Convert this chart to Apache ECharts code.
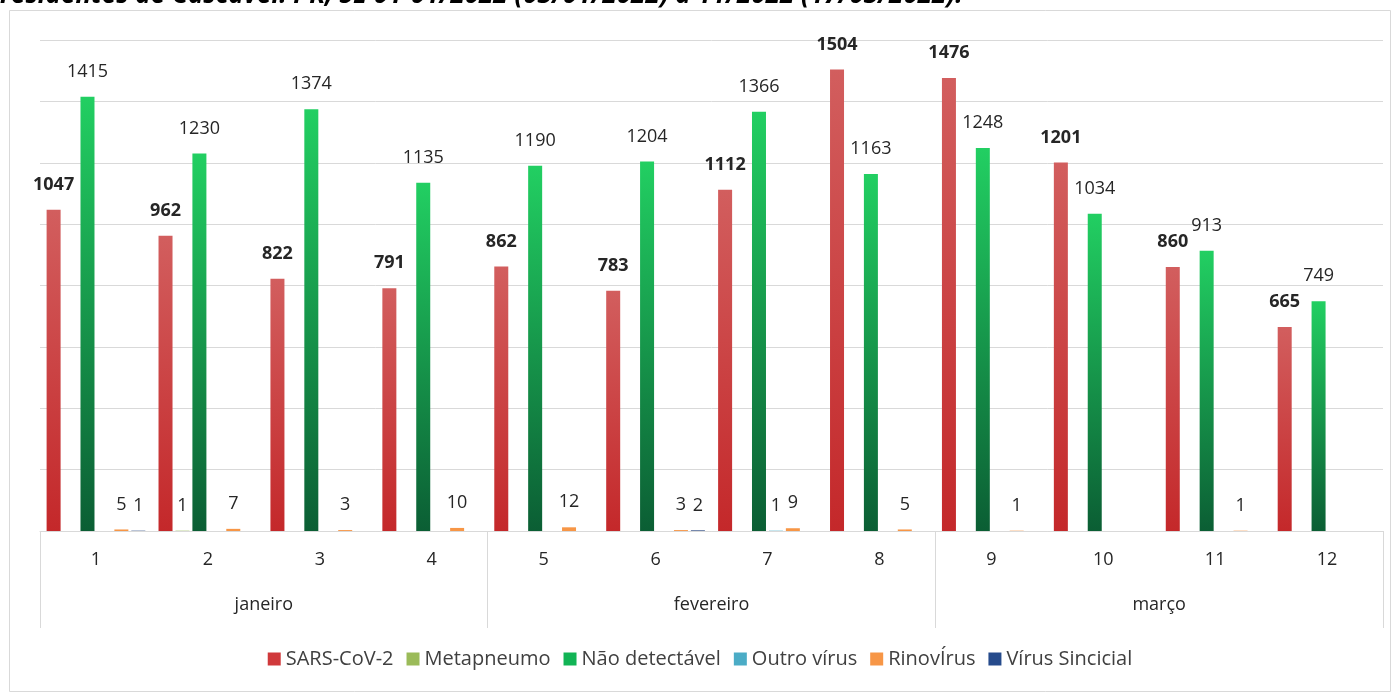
<!DOCTYPE html>
<html>
<head>
<meta charset="utf-8">
<script src="https://cdn.jsdelivr.net/npm/echarts@6/dist/echarts.min.js"></script>
<style>
html,body{margin:0;padding:0;background:#fff;}
#chart{width:1400px;height:693px;}
</style>
</head>
<body>
<div id="chart"></div>
<script>
const weeks = ['1','2','3','4','5','6','7','8','9','10','11','12'];
const months = ['janeiro','fevereiro','março'];
const sars = [1047, 962, 822, 791, 862, 783, 1112, 1504, 1476, 1201, 860, 665];
const metapneumo = [0, 1, 0, 0, 0, 0, 0, 0, 0, 0, 0, 0];
const naoDetectavel = [1415, 1230, 1374, 1135, 1190, 1204, 1366, 1163, 1248, 1034, 913, 749];
const outroVirus = [0, 0, 0, 0, 0, 0, 1, 0, 0, 0, 0, 0];
const rinovirus = [5, 7, 3, 10, 12, 3, 9, 5, 1, 0, 1, 0];
const sincicial = [1, 0, 0, 0, 0, 2, 0, 0, 0, 0, 0, 0];
const titleText = 'residentes de Cascavel: PR, SE 01-01/2022 (03/01/2022) a 11/2022 (17/03/2022).';

const chart = echarts.init(document.getElementById('chart'));
const FONT = 'Open Sans';
function lbl(bold){
  return {
    show: true, position: 'top', distance: 16,
    fontFamily: FONT, fontSize: 18, color: '#262626',
    fontWeight: bold ? 'bold' : 'normal',
    formatter: p => p.value > 0 ? String(p.value) : ''
  };
}
function grad(top, bottom){
  return new echarts.graphic.LinearGradient(0,0,0,1,[{offset:0,color:top},{offset:1,color:bottom}]);
}
function bar(name, data, color, bold){
  return {
    name, type: 'bar', data, barWidth: 14, barGap: '21%',
    itemStyle: { color },
    label: lbl(bold),
    emphasis: { disabled: true }
  };
}
const series = [
  bar('SARS-CoV-2', sars, grad('#d25e5e', '#c4282a'), true),
  bar('Metapneumo', metapneumo, '#9bbb59', false),
  bar('Não detectável', naoDetectavel, grad('#22cf62', '#0b5e34'), false),
  bar('Outro vírus', outroVirus, '#4bacc6', false),
  bar('RinovÍrus', rinovirus, '#f79646', false),
  bar('Vírus Sincicial', sincicial, '#1f3f7a', false)
];
const legendColors = ['#d0393b', '#9bbb59', '#12b455', '#4bacc6', '#f79646', '#264b8c'];

chart.setOption({
  animation: false,
  backgroundColor: '#fff',
  grid: { left: 40, right: 17, top: 40, bottom: 162, containLabel: false },
  legend: {
    bottom: 19, left: 'center', itemWidth: 13, itemHeight: 13, itemGap: 13,
    icon: 'rect',
    textStyle: { fontFamily: FONT, fontSize: 20, color: '#404040', padding: [0,0,0,0] },
    data: series.map((s,i)=>({ name: s.name, itemStyle: { color: legendColors[i] } }))
  },
  xAxis: [
    {
      type: 'category', data: weeks, position: 'bottom',
      axisLine: { show: true, lineStyle: { color: '#d9d9d9', width: 1 } },
      axisTick: { show: false },
      axisLabel: { margin: 20, fontFamily: FONT, fontSize: 18, color: '#262626' }
    },
    {
      type: 'category', data: months, position: 'bottom',
      axisLine: { show: false },
      axisTick: { show: true, length: 97, inside: false, lineStyle: { color: '#d9d9d9', width: 1 } },
      axisLabel: { margin: 65, fontFamily: FONT, fontSize: 18, color: '#262626' },
      splitLine: { show: false }
    }
  ],
  yAxis: {
    type: 'value', min: 0, max: 1600, interval: 200,
    axisLabel: { show: false }, axisLine: { show: false }, axisTick: { show: false },
    splitLine: { lineStyle: { color: '#d9d9d9', width: 1 } }
  },
  graphic: [
    { type: 'rect', shape: { x: 9.5, y: 10.5, width: 1381, height: 681 }, style: { fill: 'none', stroke: '#d9d9d9', lineWidth: 1 }, silent: true, z: -1 },
    { type: 'text', left: 0, top: -17, style: { text: titleText, fontFamily: FONT, fontSize: 26, fontWeight: 'bold', fontStyle: 'italic', fill: '#000' }, silent: true }
  ],
  series
});
</script>
</body>
</html>
